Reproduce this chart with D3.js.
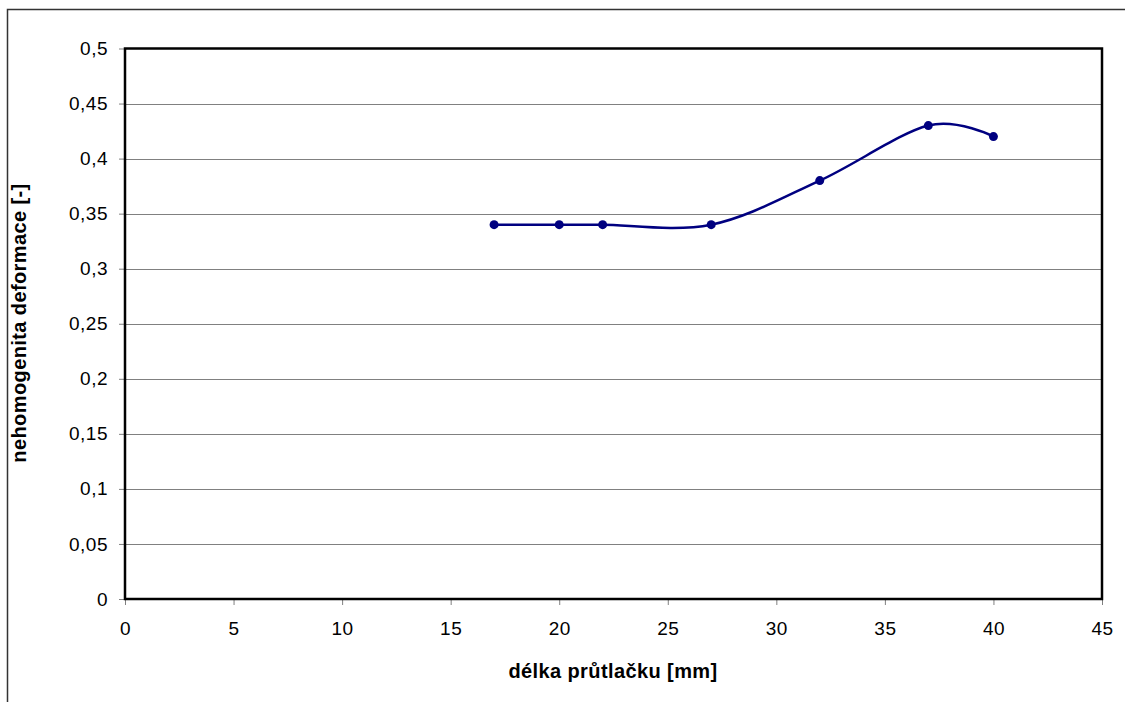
<!DOCTYPE html>
<html lang="cs">
<head>
<meta charset="UTF-8">
<title>nehomogenita deformace</title>
<script src="https://d3js.org/d3.v7.min.js"></script>
<style>
  body { margin: 0; background: #fff; }
  text { font-family: "Liberation Sans", Arial, sans-serif; fill: #000; }
  .grid line { stroke: #808080; stroke-width: 1; }
</style>
</head>
<body>
<svg width="1125" height="702"></svg>
<script>
// data
var lengths = [17, 20, 22, 27, 32, 37, 40];
var inhomogeneity = [0.34, 0.34, 0.34, 0.34, 0.38, 0.43, 0.42];
var xTicks = [0, 5, 10, 15, 20, 25, 30, 35, 40, 45];
var yTicks = [0, 0.05, 0.1, 0.15, 0.2, 0.25, 0.3, 0.35, 0.4, 0.45, 0.5];
var xLabel = "délka průtlačku [mm]";
var yLabel = "nehomogenita deformace [-]";

var svg = d3.select("svg");
var plotL = 125, plotR = 1102, plotT = 48.5, plotB = 599;

var x = d3.scaleLinear().domain([0, 45]).range([plotL, plotR]);
var y = d3.scaleLinear().domain([0, 0.5]).range([plotB, plotT]);
var fmt = function(d) { return String(d).replace(".", ","); };

// outer frame (only top and left edges visible)
svg.append("path")
  .attr("d", "M7.5,702 L7.5,9.5 L1125,9.5")
  .attr("fill", "none")
  .attr("stroke", "#333")
  .attr("stroke-width", 1.5);

// gridlines
svg.append("g").attr("class", "grid")
  .selectAll("line")
  .data(yTicks.filter(function(d) { return d > 0 && d < 0.5; }))
  .enter().append("line")
    .attr("x1", plotL).attr("x2", plotR)
    .attr("y1", function(d) { return Math.round(y(d)) + 0.5; })
    .attr("y2", function(d) { return Math.round(y(d)) + 0.5; });

// axes
var yAxis = svg.append("g")
  .attr("transform", "translate(" + plotL + ",0)")
  .call(d3.axisLeft(y).tickValues(yTicks).tickFormat(fmt).tickSize(6).tickPadding(11));
var xAxis = svg.append("g")
  .attr("transform", "translate(0," + plotB + ")")
  .call(d3.axisBottom(x).tickValues(xTicks).tickFormat(fmt).tickSize(6).tickPadding(17));

[xAxis, yAxis].forEach(function(a) {
  a.select(".domain").remove();
  a.selectAll(".tick line").attr("stroke", "#808080");
  a.selectAll("text")
    .attr("font-size", 19)
    .attr("letter-spacing", 0.5)
    .attr("font-family", "Liberation Sans, Arial, sans-serif")
    .attr("fill", "#000");
});

// plot frame
svg.append("rect")
  .attr("x", plotL).attr("y", plotT)
  .attr("width", plotR - plotL).attr("height", plotB - plotT)
  .attr("fill", "none")
  .attr("stroke", "#000")
  .attr("stroke-width", 2.5);

// smoothed series
var pts = lengths.map(function(d, i) { return [d, inhomogeneity[i]]; });
var line = d3.line()
  .x(function(d) { return x(d[0]); })
  .y(function(d) { return y(d[1]); })
  .curve(d3.curveCardinal.tension(0));

svg.append("path")
  .datum(pts)
  .attr("d", line)
  .attr("fill", "none")
  .attr("stroke", "#000080")
  .attr("stroke-width", 2.5);

svg.append("g")
  .selectAll("circle")
  .data(pts)
  .enter().append("circle")
    .attr("cx", function(d) { return x(d[0]); })
    .attr("cy", function(d) { return y(d[1]); })
    .attr("r", 4.5)
    .attr("fill", "#000080");

// axis titles
svg.append("text")
  .attr("x", 613).attr("y", 678)
  .attr("text-anchor", "middle")
  .attr("font-size", 20).attr("font-weight", "bold")
  .attr("letter-spacing", 0.4)
  .text(xLabel);

svg.append("text")
  .attr("transform", "translate(26,323) rotate(-90)")
  .attr("text-anchor", "middle")
  .attr("font-size", 20).attr("font-weight", "bold")
  .attr("letter-spacing", 0.4)
  .text(yLabel);
</script>
</body>
</html>
